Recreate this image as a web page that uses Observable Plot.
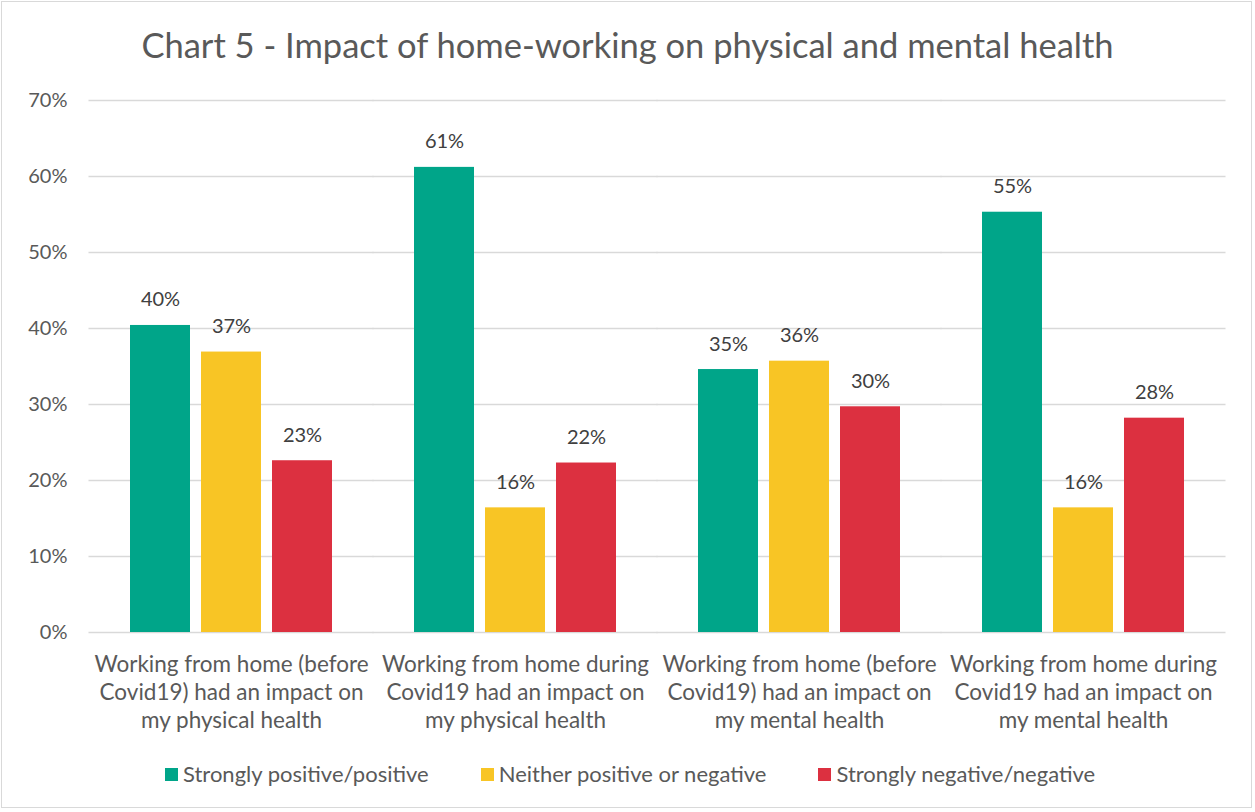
<!DOCTYPE html>
<html>
<head>
<meta charset="utf-8">
<script src="https://cdn.jsdelivr.net/npm/d3@7"></script>
<script src="https://cdn.jsdelivr.net/npm/@observablehq/plot@0.6"></script>
<style>
  body { margin: 0; background: #fff; font-family: Lato, "Open Sans", sans-serif; }
  #frame { position: absolute; left: 1px; top: 1px; width: 1249px; height: 805px; border: 1.5px solid #d9d9d9; }
  #title { position: absolute; left: 0; top: 22px; width: 1255px; text-align: center; font-size: 34.5px; line-height: 46px; color: #595959; }
  #chart { position: absolute; left: 0; top: 80px; }
  #legend { position: absolute; left: 165px; top: 760px; display: flex; gap: 52px; font-size: 22px; color: #595959; line-height: 28px; }
  .item { display: flex; align-items: center; gap: 5px; }
  .sw { width: 13px; height: 13px; display: inline-block; }
</style>
</head>
<body>
<div id="frame"></div>
<div id="title">Chart 5 - Impact of home-working on physical and mental health</div>
<div id="chart"></div>
<div id="legend"></div>
<script>
const categories = ["Before Covid19 physical", "During Covid19 physical", "Before Covid19 mental", "During Covid19 mental"];
const categoryLabels = [
  "Working from home (before\nCovid19) had an impact on\nmy physical health",
  "Working from home during\nCovid19 had an impact on\nmy physical health",
  "Working from home (before\nCovid19) had an impact on\nmy mental health",
  "Working from home during\nCovid19 had an impact on\nmy mental health"
];
const series = ["Strongly positive/positive", "Neither positive or negative", "Strongly negative/negative"];
const colors = ["#00a589", "#f8c525", "#dc3040"];
const positive = [40.4, 61.2, 34.6, 55.3];
const neither = [36.9, 16.4, 35.7, 16.4];
const negative = [22.6, 22.3, 29.7, 28.2];
const yTicks = [0, 10, 20, 30, 40, 50, 60, 70];

const seriesValues = [positive, neither, negative];
const rows = [];
categories.forEach((c, i) => series.forEach((s, j) => rows.push({category: c, series: s, value: seriesValues[j][i]})));
const labelOf = new Map(categories.map((c, i) => [c, categoryLabels[i]]));

const chart = Plot.plot({
  width: 1255,
  height: 667,
  marginLeft: 88,
  marginRight: 30,
  marginTop: 20,
  marginBottom: 115,
  style: {fontFamily: "Lato, 'Open Sans', sans-serif", background: "transparent"},
  fx: {domain: categories, paddingInner: 0.29, paddingOuter: 0.145},
  x: {domain: series, paddingInner: 0.155, paddingOuter: 0, axis: null},
  y: {domain: [0, 70]},
  color: {domain: series, range: colors},
  marks: [
    Plot.ruleY(yTicks, {stroke: "#d9d9d9", strokeWidth: 1.5, insetLeft: -41.5, insetRight: -41.5}),
    Plot.barY(rows, {fx: "category", x: "series", y: "value", fill: "series"}),
    Plot.text(rows, {fx: "category", x: "series", y: "value", text: d => Math.round(d.value) + "%", dy: -19, lineAnchor: "bottom", fontSize: 20, fill: "#404040"}),
    Plot.axisY({ticks: yTicks, tickFormat: d => d + "%", tickSize: 0, tickPadding: 63, fontSize: 20, fill: "#595959", label: null}),
    Plot.axisFx({anchor: "bottom", tickSize: 0, tickPadding: 20, fontSize: 22.5, lineHeight: 1.245, fill: "#595959", label: null, tickFormat: d => labelOf.get(d)})
  ]
});
document.getElementById("chart").appendChild(chart);

const legend = document.getElementById("legend");
series.forEach((s, i) => {
  const item = document.createElement("div");
  item.className = "item";
  const sw = document.createElement("span");
  sw.className = "sw";
  sw.style.background = colors[i];
  const t = document.createElement("span");
  t.textContent = s;
  item.appendChild(sw);
  item.appendChild(t);
  legend.appendChild(item);
});
</script>
</body>
</html>
